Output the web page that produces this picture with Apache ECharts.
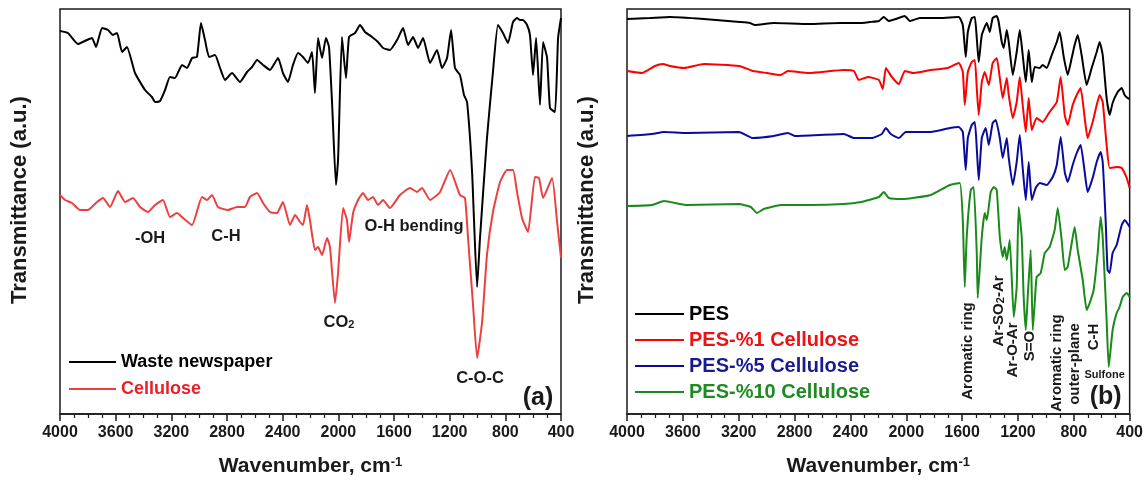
<!DOCTYPE html>
<html><head><meta charset="utf-8">
<script src="https://cdn.jsdelivr.net/npm/echarts@6/dist/echarts.min.js"></script>
<style>html,body{margin:0;padding:0;background:#fff}#c{width:1146px;height:482px}</style>
</head><body><div id="c"></div>
<script>
// Tick labels (wavenumber, cm-1)
const wavenumberTicks = [4000, 3600, 3200, 2800, 2400, 2000, 1600, 1200, 800, 400];

// Panel (a) spectra: [wavenumber, transmittance (a.u.)]
const wasteNewspaper = [[4000,383],[3943,381],[3871,370],[3806,374],[3770,376],[3741,367],[3698,386],[3655,384],[3619,379],[3590,381],[3554,362],[3519,367],[3461,341],[3389,324],[3339,317],[3317,312],[3281,313],[3245,324],[3210,337],[3174,336],[3123,349],[3087,346],[3051,356],[3016,357],[2987,391],[2958,374],[2929,357],[2886,359],[2850,346],[2814,334],[2764,341],[2707,332],[2656,342],[2620,347],[2584,354],[2541,349],[2491,344],[2433,356],[2398,341],[2362,332],[2326,349],[2290,361],[2254,357],[2218,351],[2189,362],[2168,321],[2146,376],[2117,356],[2089,376],[2067,367],[2045,311],[2017,229],[2002,254],[1974,377],[1945,336],[1923,377],[1880,381],[1844,389],[1808,382],[1758,377],[1715,372],[1679,366],[1629,364],[1578,374],[1535,386],[1499,369],[1463,377],[1427,366],[1391,376],[1341,351],[1291,364],[1255,346],[1219,356],[1190,384],[1162,346],[1126,339],[1097,319],[1075,312],[1039,242],[1003,127],[982,176],[932,276],[889,342],[853,389],[817,381],[781,371],[745,392],[716,396],[694,394],[673,394],[644,389],[623,379],[601,339],[579,376],[551,309],[529,372],[500,356],[479,306],[443,302],[421,376],[400,396]];
const cellulose = [[4000,219],[3964,214],[3914,211],[3856,204],[3799,204],[3734,212],[3691,216],[3641,207],[3583,223],[3533,212],[3475,216],[3425,207],[3368,202],[3317,209],[3260,214],[3210,197],[3159,201],[3116,196],[3051,189],[2980,217],[2944,214],[2908,219],[2865,207],[2793,204],[2728,207],[2671,207],[2635,217],[2584,221],[2541,211],[2491,202],[2441,201],[2398,212],[2347,189],[2311,199],[2275,192],[2254,189],[2225,209],[2204,194],[2168,164],[2146,167],[2117,159],[2081,176],[2060,167],[2024,111],[2002,141],[1966,206],[1938,194],[1923,172],[1894,201],[1858,214],[1823,221],[1787,214],[1751,217],[1715,209],[1679,214],[1629,206],[1557,219],[1485,226],[1435,222],[1399,226],[1341,214],[1269,222],[1197,244],[1126,219],[1090,216],[1068,176],[1032,109],[1003,56],[967,92],[932,159],[889,202],[838,232],[788,244],[745,244],[716,222],[680,196],[637,182],[587,237],[558,236],[529,216],[464,236],[428,192],[400,156]];

// Panel (b) spectra
const pes = [[4000,395],[3835,396],[3692,397],[3449,395],[3191,392],[3120,391],[3084,389],[2948,391],[2697,390],[2476,391],[2340,391],[2261,392],[2196,393],[2161,397],[2125,393],[2075,395],[2010,398],[1975,393],[1903,396],[1760,396],[1624,397],[1595,389],[1574,357],[1559,382],[1531,396],[1509,397],[1495,376],[1481,352],[1459,379],[1423,391],[1402,382],[1381,396],[1352,398],[1338,392],[1316,372],[1302,366],[1280,384],[1266,372],[1237,339],[1209,362],[1187,384],[1166,359],[1144,332],[1123,364],[1101,332],[1080,347],[1044,346],[1023,349],[994,346],[958,359],[922,372],[901,382],[872,357],[844,339],[815,356],[794,369],[772,379],[744,359],[708,329],[672,346],[636,362],[615,372],[593,359],[565,316],[543,299],[522,311],[486,322],[457,326],[436,319],[414,316],[400,315]];
const pes1 = [[4000,343],[3893,341],[3800,348],[3742,350],[3692,348],[3592,346],[3449,350],[3198,348],[3098,343],[2998,341],[2898,339],[2848,343],[2697,341],[2447,344],[2375,343],[2340,334],[2275,337],[2196,334],[2168,325],[2146,346],[2103,337],[2053,330],[2010,343],[1953,341],[1824,344],[1703,346],[1624,351],[1595,342],[1581,309],[1559,342],[1531,352],[1509,354],[1495,326],[1481,299],[1459,332],[1438,342],[1409,329],[1381,351],[1352,356],[1330,336],[1309,316],[1280,336],[1266,319],[1237,296],[1209,312],[1187,337],[1166,309],[1144,282],[1123,316],[1101,284],[1066,296],[1023,292],[973,302],[922,312],[894,337],[865,299],[844,289],[808,309],[779,319],[751,326],[722,296],[701,276],[665,292],[636,309],[615,319],[593,312],[565,269],[543,246],[493,247],[457,246],[421,236],[400,226]];
const pes5 = [[4000,278],[3821,280],[3735,282],[3571,281],[3198,282],[3098,276],[2948,278],[2848,281],[2798,278],[2447,280],[2375,276],[2247,276],[2175,280],[2146,286],[2111,280],[2053,276],[2003,282],[1824,282],[1688,286],[1624,287],[1595,282],[1574,244],[1559,276],[1531,289],[1509,292],[1495,266],[1481,234],[1459,276],[1431,286],[1409,269],[1381,291],[1359,294],[1330,276],[1309,256],[1280,276],[1266,256],[1237,229],[1209,252],[1187,279],[1166,246],[1144,214],[1123,252],[1101,214],[1073,226],[1044,231],[994,229],[951,237],[922,249],[894,277],[865,242],[844,232],[808,249],[779,261],[751,269],[722,242],[701,222],[665,236],[636,252],[608,262],[593,252],[572,194],[558,144],[543,141],[522,161],[493,169],[457,189],[436,194],[400,187]];
const pes10 = [[4000,208],[3821,209],[3735,213],[3571,209],[3198,210],[3113,207],[3070,201],[3020,205],[2898,209],[2697,209],[2447,210],[2325,212],[2196,217],[2161,222],[2125,216],[2025,215],[1953,216],[1824,219],[1688,229],[1617,231],[1595,194],[1581,127],[1567,177],[1538,224],[1517,227],[1495,161],[1488,116],[1459,177],[1438,201],[1423,194],[1395,222],[1373,227],[1352,224],[1330,177],[1309,157],[1295,167],[1280,154],[1259,174],[1230,97],[1209,127],[1195,207],[1173,177],[1159,117],[1144,84],[1130,117],[1109,164],[1094,84],[1080,111],[1066,137],[1037,141],[1008,161],[973,167],[937,184],[915,206],[887,174],[865,144],[844,147],[815,171],[794,187],[772,164],[736,134],[708,104],[686,111],[658,124],[629,161],[608,197],[593,177],[565,94],[550,47],[522,84],[493,101],[472,107],[450,117],[421,121],[400,117]];

// Annotations: [text, wavenumber, transmittance]
const annotationsA = [['-OH',3353,176],['C-H',2807,178],['O-H bending',1456,188],['CO{s|2}',1995,92],['C-O-C',982,36]];
const annotationsB = [['Aromatic ring',1560,63],['Ar-SO{s|2}-Ar',1338,103],['Ar-O-Ar',1237,64],['S=O',1116,68],['Aromatic ring',923,51],['outer-plane',794,50],['C-H',658,77]];
const smallAnnotationsB = [['Sulfone',579,39]];
const panelLabels = [['(a)',565,16,0],['(b)',572,17,1]];

const FONT = 'Liberation Sans, Arial, sans-serif';
const chart = echarts.init(document.getElementById('c'), null, {renderer: 'canvas'});

function xAxisCfg(i) {
  return {
    type: 'value', gridIndex: i, inverse: true,
    min: Math.min(...wavenumberTicks), max: Math.max(...wavenumberTicks),
    interval: wavenumberTicks[0] - wavenumberTicks[1],
    axisLine: {show: true, lineStyle: {color: '#1a1a1a', width: 1.5}},
    axisTick: {show: true, length: 7, lineStyle: {color: '#1a1a1a', width: 1.5}},
    minorTick: {show: true, splitNumber: 4, length: 4, lineStyle: {color: '#1a1a1a', width: 1.2}},
    splitLine: {show: false},
    axisLabel: {fontFamily: FONT, fontSize: 16, fontWeight: 'bold', color: '#1a1a1a', margin: 11, showMinLabel: true, showMaxLabel: true,
      formatter: v => String(v)},
    name: 'Wavenumber, cm{sup|-1}', nameLocation: 'middle', nameGap: 42,
    nameTextStyle: {fontFamily: FONT, fontSize: 21, fontWeight: 'bold', color: '#1a1a1a',
      rich: {sup: {fontFamily: FONT, fontSize: 13, fontWeight: 'bold', color: '#1a1a1a', verticalAlign: 'top', lineHeight: 12}}}
  };
}
function yAxisCfg(i) {
  return {type: 'value', gridIndex: i, min: 0, max: 405, axisLine: {show: false}, axisTick: {show: false}, axisLabel: {show: false}, splitLine: {show: false}};
}
function lineSeries(name, data, color, idx, w) {
  return {name, type: 'line', data, xAxisIndex: idx, yAxisIndex: idx, symbol: 'none', smooth: 0.15,
    lineStyle: {color, width: w}, itemStyle: {color}, silent: true, animation: false};
}

chart.setOption({
  animation: false,
  grid: [
    {left: 60, top: 9, width: 501, height: 405, show: true, borderColor: '#1a1a1a', borderWidth: 1.5},
    {left: 627, top: 9, width: 503, height: 405, show: true, borderColor: '#1a1a1a', borderWidth: 1.5}
  ],
  xAxis: [xAxisCfg(0), xAxisCfg(1)],
  yAxis: [yAxisCfg(0), yAxisCfg(1)],
  legend: [
    {orient: 'vertical', left: 68, top: 353, padding: 0, itemWidth: 47, itemHeight: 14, itemGap: 9,
     itemStyle: {opacity: 0}, lineStyle: {width: 2},
     textStyle: {fontFamily: FONT, fontSize: 18, fontWeight: 'bold'},
     data: [{name: 'Waste newspaper', textStyle: {color: '#000'}}, {name: 'Cellulose', textStyle: {color: '#ee1c25'}}]},
    {orient: 'vertical', left: 634, top: 304, padding: 0, itemWidth: 49, itemHeight: 14, itemGap: 6,
     itemStyle: {opacity: 0}, lineStyle: {width: 2},
     textStyle: {fontFamily: FONT, fontSize: 20, fontWeight: 'bold'},
     data: [{name: 'PES', textStyle: {color: '#000'}}, {name: 'PES-%1 Cellulose', textStyle: {color: '#ee1111'}},
            {name: 'PES-%5 Cellulose', textStyle: {color: '#1a1a90'}}, {name: 'PES-%10 Cellulose', textStyle: {color: '#1f8a22'}}]}
  ],
  series: [
    lineSeries('Waste newspaper', wasteNewspaper, '#000000', 0, 2),
    lineSeries('Cellulose', cellulose, '#ec4040', 0, 2),
    lineSeries('PES', pes, '#000000', 1, 2),
    lineSeries('PES-%1 Cellulose', pes1, '#ff0000', 1, 2),
    lineSeries('PES-%5 Cellulose', pes5, '#0a0a9e', 1, 2),
    lineSeries('PES-%10 Cellulose', pes10, '#1a8a1a', 1, 2)
  ]
});

const subRich = {s: {fontFamily: FONT, fontSize: 11, fontWeight: 'bold', fill: '#1a1a1a', verticalAlign: 'bottom', lineHeight: 10, padding: [6, 0, 0, 0]}};
const graphics = [];
function addText(text, px, size, rotate) {
  graphics.push({type: 'text', x: px[0], y: px[1], rotation: rotate ? Math.PI / 2 : 0, silent: true,
    style: {text, fill: '#1a1a1a', font: 'bold ' + size + 'px ' + FONT, align: 'center', verticalAlign: 'middle', rich: subRich}});
}
annotationsA.forEach(a => addText(a[0], chart.convertToPixel({xAxisIndex: 0, yAxisIndex: 0}, [a[1], a[2]]), 16.5, false));
annotationsB.forEach(a => addText(a[0], chart.convertToPixel({xAxisIndex: 1, yAxisIndex: 1}, [a[1], a[2]]), 15, true));
smallAnnotationsB.forEach(a => addText(a[0], chart.convertToPixel({xAxisIndex: 1, yAxisIndex: 1}, [a[1], a[2]]), 11, false));
panelLabels.forEach(a => addText(a[0], chart.convertToPixel({xAxisIndex: a[3], yAxisIndex: a[3]}, [a[1], a[2]]), 25, false));
// y-axis titles
[0, 1].forEach(i => {
  const p = chart.convertToPixel({xAxisIndex: i, yAxisIndex: i}, [4000, 214]);
  addText('Transmittance (a.u.)', [p[0] - 40, p[1]], 22, true);
});
chart.setOption({graphic: graphics});
</script></body></html>
